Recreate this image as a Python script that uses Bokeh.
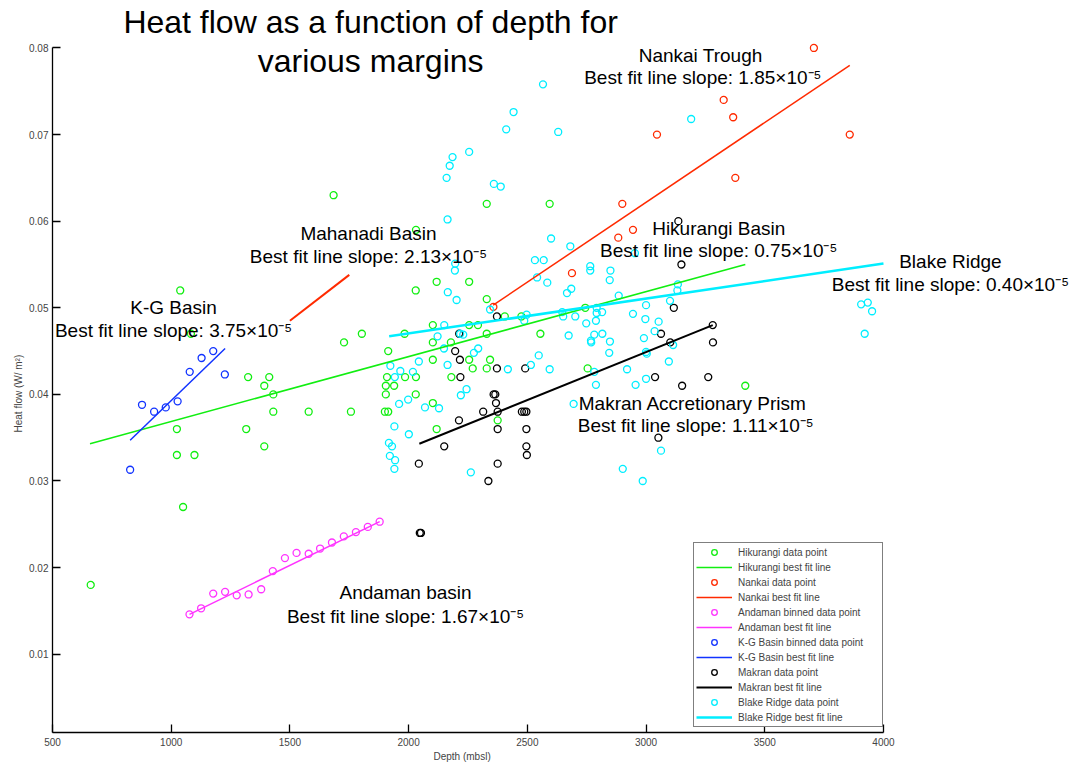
from bokeh.plotting import figure
from bokeh.models import Range1d, FixedTicker, Label, Legend, LegendItem, PrintfTickFormatter, Title
from bokeh.embed import file_html
from bokeh.resources import INLINE

# ---------------- data ----------------
X_TICKS = [500, 1000, 1500, 2000, 2500, 3000, 3500, 4000]
Y_TICKS = [0.01, 0.02, 0.03, 0.04, 0.05, 0.06, 0.07, 0.08]

hik_x = [661, 1038, 1083, 1324, 1413, 1392, 1430, 1430, 1024, 1316, 1392, 1024, 1098, 1050,
         1684, 2329, 2594, 2031, 2030, 2118, 2255, 2329, 2102, 2255, 2292, 1803, 1983, 2329,
         2555, 1728, 2102, 2178, 1914, 2102, 2255, 2343, 2270, 2329, 1909, 1985, 2031, 2180,
         1904, 1939, 1904, 2030, 1579, 1757, 1900, 1914, 2102, 2118, 2375, 2405, 2475, 2744,
         2754, 3418]
hik_y = [0.018, 0.052, 0.047, 0.042, 0.042, 0.041, 0.040, 0.038, 0.036, 0.036, 0.034, 0.033, 0.033, 0.027,
         0.063, 0.062, 0.062, 0.059, 0.052, 0.053, 0.053, 0.051, 0.048, 0.048, 0.048, 0.047, 0.047, 0.047,
         0.047, 0.046, 0.046, 0.046, 0.045, 0.044, 0.044, 0.044, 0.043, 0.043, 0.042, 0.042, 0.042, 0.042,
         0.041, 0.041, 0.040, 0.040, 0.038, 0.038, 0.038, 0.038, 0.039, 0.036, 0.037, 0.049, 0.049, 0.050,
         0.043, 0.041]
hik_fit_x = [658, 3418]
hik_fit_y = [0.0343, 0.0550]

nan_x = [3707, 3327, 3367, 3046, 3858, 3376, 2900, 2945, 2883, 2688, 2357]
nan_y = [0.0800, 0.0740, 0.0720, 0.0700, 0.0700, 0.0650, 0.0620, 0.0590, 0.0581, 0.0540, 0.0501]
nan_fit_x = [2356, 3858]
nan_fit_y = [0.0503, 0.0780]

mah_fit_x = [1500, 1750]
mah_fit_y = [0.0485, 0.0538]

and_x = [1077, 1126, 1177, 1227, 1276, 1326, 1379, 1428, 1479, 1528, 1579, 1627, 1677, 1727, 1778, 1828, 1878]
and_y = [0.0146, 0.0153, 0.0170, 0.0172, 0.0168, 0.0169, 0.0175, 0.0196, 0.0211, 0.0217, 0.0216,
         0.0222, 0.0229, 0.0236, 0.0241, 0.0247, 0.0253]
and_fit_x = [1077, 1878]
and_fit_y = [0.0146, 0.0253]

kg_x = [827, 877, 928, 977, 1027, 1078, 1128, 1177, 1226]
kg_y = [0.0313, 0.0388, 0.0380, 0.0385, 0.0392, 0.0426, 0.0442, 0.0450, 0.0423]
kg_fit_x = [827, 1227]
kg_fit_y = [0.0347, 0.0453]

mak_x = [2372, 2213, 2196, 2216, 2218, 2372, 2491, 2358, 2365, 2368, 2314, 2375, 2477, 2487, 2496,
         2212, 2375, 2496, 2150, 2496, 2498, 2043, 2375, 2336, 2047, 2052, 3149, 3117, 3063, 3102,
         3281, 3282, 3038, 3262, 3152, 3052, 3136]
mak_y = [0.049, 0.047, 0.045, 0.044, 0.042, 0.043, 0.043, 0.040, 0.040, 0.039, 0.038, 0.038, 0.038, 0.038, 0.038,
         0.037, 0.036, 0.036, 0.034, 0.034, 0.033, 0.032, 0.032, 0.030, 0.024, 0.024, 0.055, 0.050, 0.047, 0.046,
         0.048, 0.046, 0.042, 0.042, 0.041, 0.035, 0.060]
mak_fit_x = [2045, 3281]
mak_fit_y = [0.0343, 0.0480]

bla_x = [2566, 2442, 2411, 2630, 2255, 2185, 2173, 2160, 2359, 2388, 2164, 2600, 3190, 2196, 2195,
         2165, 2202, 2150, 2122, 2149, 2230, 2275, 2293, 2043, 1923, 1965, 2018, 1942, 2164, 2244,
         2220, 1998, 1960, 2069, 2128, 1940, 2001, 1917, 1930, 1921, 1943, 1940, 2262, 2681, 2532,
         2569, 2541, 2584, 2667, 2685, 2343, 2497, 2487, 2647, 2651, 2702, 2748, 2674, 2217, 2548,
         2515, 2594, 2418, 2695, 2765, 2765, 2850, 2847, 2953, 2885, 3134, 3132, 3101, 2792, 2815,
         2792, 2789, 2945, 3000, 2997, 3053, 3036, 2816, 2782, 2768, 2769, 2848, 2991, 2845, 3000,
         3003, 3114, 3096, 2920, 2782, 2789, 2956, 3000, 3063, 2902, 2986, 3906, 3934, 3952, 3921]
bla_y = [0.0758, 0.0726, 0.0706, 0.0703, 0.0680, 0.0674, 0.0664, 0.0650, 0.0643, 0.0640, 0.0602, 0.0580, 0.0718, 0.0551, 0.0543,
         0.0518, 0.0509, 0.0480, 0.0467, 0.0453, 0.0469, 0.0448, 0.0453, 0.0438, 0.0433, 0.0427, 0.0426, 0.0420, 0.0434, 0.0406,
         0.0399, 0.0394, 0.0389, 0.0385, 0.0384, 0.0363, 0.0354, 0.0344, 0.0340, 0.0329, 0.0324, 0.0314, 0.0310, 0.0571, 0.0555,
         0.0555, 0.0535, 0.0529, 0.0517, 0.0522, 0.0498, 0.0492, 0.0485, 0.0495, 0.0490, 0.0490, 0.0482, 0.0468, 0.0470, 0.0445,
         0.0434, 0.0429, 0.0429, 0.0389, 0.0548, 0.0543, 0.0543, 0.0532, 0.0563, 0.0514, 0.0527, 0.0520, 0.0508, 0.0500, 0.0495,
         0.0494, 0.0485, 0.0493, 0.0503, 0.0487, 0.0484, 0.0473, 0.0470, 0.0469, 0.0462, 0.0460, 0.0461, 0.0465, 0.0448, 0.0449,
         0.0447, 0.0457, 0.0438, 0.0429, 0.0426, 0.0411, 0.0411, 0.0418, 0.0335, 0.0314, 0.0300, 0.0504, 0.0506, 0.0496, 0.0470]
bla_fit_x = [1918, 4000]
bla_fit_y = [0.0467, 0.0551]

TITLE_LINES = ["Heat flow as a function of depth for", "various margins"]
NOTES = [
    ("Nankai Trough", "Best fit line slope: 1.85\u00d710\u207b\u2075", 3230, 0.07914, 3239, 0.07660),
    ("Hikurangi Basin", "Best fit line slope: 0.75\u00d710\u207b\u2075", 3306, 0.05916, 3306, 0.05662),
    ("Blake Ridge", "Best fit line slope: 0.40\u00d710\u207b\u2075", 4282, 0.05535, 4282, 0.05269),
    ("Mahanadi Basin", "Best fit line slope: 2.13\u00d710\u207b\u2075", 1831, 0.05858, 1831, 0.05592),
    ("K-G Basin", "Best fit line slope: 3.75\u00d710\u207b\u2075", 1010, 0.05006, 1010, 0.04737),
    ("Makran Accretionary Prism", "Best fit line slope: 1.11\u00d710\u207b\u2075", 3197, 0.03895, 3209, 0.03640),
    ("Andaman basin", "Best fit line slope: 1.67\u00d710\u207b\u2075", 1987, 0.01712, 1987, 0.01434),
]

GREEN = "#11ee11"
RED = "#ff2a00"
MAGENTA = "#ff33ff"
BLUE = "#1133ff"
BLACK = "#000000"
CYAN = "#00eeff"
FONT = "Liberation Sans"

# ---------------- figure ----------------
# The frame is extended to the right and top so the annotations drawn there are not clipped;
# the axes are bounded to the real data extent.
p = figure(width=1074, height=765, output_backend="svg", toolbar_location=None,
           x_range=Range1d(500, 4804.6), y_range=Range1d(0.00096, 0.08548),
           min_border_left=52, min_border_right=0, min_border_top=0, min_border_bottom=33)
p.title.visible = False
p.outline_line_color = None
p.grid.visible = False
p.background_fill_color = "white"
p.border_fill_color = "white"

for ax in (p.xaxis[0], p.yaxis[0]):
    ax.major_tick_in = 8
    ax.major_tick_out = 0
    ax.minor_tick_line_color = None
    ax.axis_line_width = 1.3
    ax.major_tick_line_width = 1.3
    ax.major_label_text_font = FONT
    ax.major_label_text_font_size = "10px"
    ax.axis_label = None

p.xaxis[0].ticker = FixedTicker(ticks=X_TICKS)
p.yaxis[0].ticker = FixedTicker(ticks=Y_TICKS)
p.yaxis[0].formatter = PrintfTickFormatter(format="%.2f")
p.xaxis[0].bounds = (500, 4000)
p.yaxis[0].bounds = (0.00096, 0.08)
p.xaxis[0].major_label_standoff = 5
p.yaxis[0].major_label_standoff = 4

# axis titles placed at the centre of the bounded axes
p.add_layout(Title(text="Depth (mbsl)", align="left", offset=381, standoff=0,
                   text_font=FONT, text_font_size="10px", text_font_style="normal"), "below")
p.add_layout(Title(text="Heat flow (W/ m\u00b2)", align="left", offset=300, standoff=6,
                   text_font=FONT, text_font_size="10px", text_font_style="normal"), "left")

MS = 7
MLW = 1.3

def pts(x, y, c):
    return p.scatter(x, y, marker="circle", size=MS, fill_color=None, line_color=c, line_width=MLW)

def fit(x, y, c, w=1.5):
    return p.line(x, y, line_color=c, line_width=w)

r_hik = pts(hik_x, hik_y, GREEN)
r_nan = pts(nan_x, nan_y, RED)
r_and = pts(and_x, and_y, MAGENTA)
r_kg = pts(kg_x, kg_y, BLUE)
r_mak = pts(mak_x, mak_y, BLACK)
r_bla = pts(bla_x, bla_y, CYAN)

l_hik = fit(hik_fit_x, hik_fit_y, GREEN)
l_nan = fit(nan_fit_x, nan_fit_y, RED)
l_mah = fit(mah_fit_x, mah_fit_y, RED, 2)
l_and = fit(and_fit_x, and_fit_y, MAGENTA)
l_kg = fit(kg_fit_x, kg_fit_y, BLUE)
l_mak = fit(mak_fit_x, mak_fit_y, BLACK, 2)
l_bla = fit(bla_fit_x, bla_fit_y, CYAN, 2.5)

# title (two lines, over the plot)
p.add_layout(Label(x=1840, y=0.0830, text=TITLE_LINES[0], text_align="center", text_baseline="middle",
                   text_font=FONT, text_font_size="32px", text_color="black"))
p.add_layout(Label(x=1840, y=0.07844, text=TITLE_LINES[1], text_align="center", text_baseline="middle",
                   text_font=FONT, text_font_size="32px", text_color="black"))

for t1, t2, x1, y1, x2, y2 in NOTES:
    p.add_layout(Label(x=x1, y=y1, text=t1, text_align="center", text_baseline="middle",
                       text_font=FONT, text_font_size="19px", text_color="black"))
    p.add_layout(Label(x=x2, y=y2, text=t2, text_align="center", text_baseline="middle",
                       text_font=FONT, text_font_size="19px", text_color="black"))

items = [
    LegendItem(label="Hikurangi data point", renderers=[r_hik]),
    LegendItem(label="Hikurangi best fit line", renderers=[l_hik]),
    LegendItem(label="Nankai data point", renderers=[r_nan]),
    LegendItem(label="Nankai best fit line", renderers=[l_nan]),
    LegendItem(label="Andaman binned data point", renderers=[r_and]),
    LegendItem(label="Andaman best fit line", renderers=[l_and]),
    LegendItem(label="K-G Basin binned data point", renderers=[r_kg]),
    LegendItem(label="K-G Basin best fit line", renderers=[l_kg]),
    LegendItem(label="Makran data point", renderers=[r_mak]),
    LegendItem(label="Makran best fit line", renderers=[l_mak]),
    LegendItem(label="Blake Ridge data point", renderers=[r_bla]),
    LegendItem(label="Blake Ridge best fit line", renderers=[l_bla]),
]
legend = Legend(items=items, location=(641, 5), border_line_color="black", border_line_width=1,
                background_fill_color="white", background_fill_alpha=1.0,
                label_text_font=FONT, label_text_font_size="10px",
                glyph_width=36, glyph_height=14, label_height=14, spacing=1, padding=2, margin=0,
                label_standoff=6, label_width=142)
p.add_layout(legend)

open("out.html", "w").write(file_html(p, INLINE))
